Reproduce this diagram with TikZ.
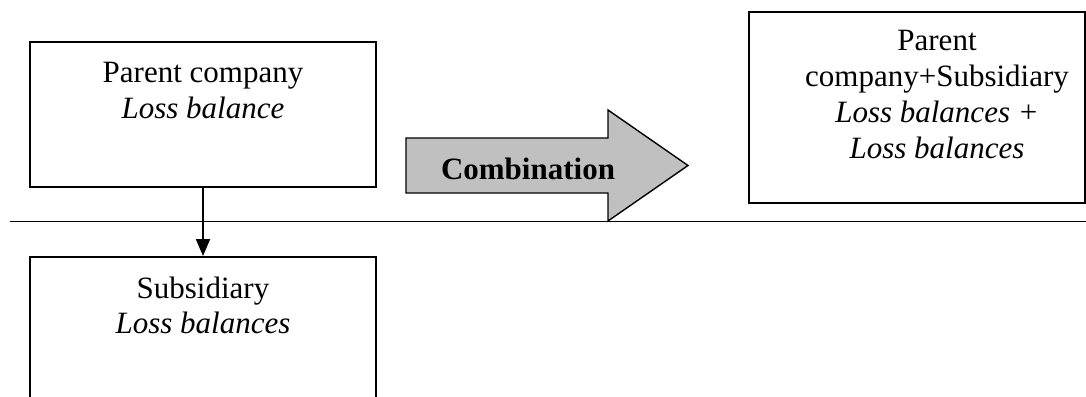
\documentclass[tikz,border=0pt]{standalone}
\usepackage{fontspec}
\setmainfont{Liberation Serif}
\usetikzlibrary{arrows.meta}
\begin{document}
\begin{tikzpicture}[x=0.5pt,y=-0.5pt,
  box/.style={draw,line width=1pt,inner sep=0pt},
  txt/.style={anchor=base,inner sep=0pt,font=\fontsize{15.5pt}{18pt}\selectfont},
  itxt/.style={txt,font=\fontsize{15.5pt}{18pt}\selectfont\itshape},
  btxt/.style={txt,font=\fontsize{15.5pt}{18pt}\selectfont\bfseries}]
\useasboundingbox (0,0) rectangle (1086,396);
\clip (0,0) rectangle (1086,396);
% parent box
\node[box,minimum width=173pt,minimum height=72.5pt] (parent) at (203,114.5) {};
\node[txt] (p1) at (203,82) {Parent company};
\node[itxt] (p2) at (203,118) {Loss balance};
% subsidiary box (bottom cut off)
\node[box,minimum width=173pt,minimum height=90pt] (sub) at (203,347) {};
\node[txt] (s1) at (203,298) {Subsidiary};
\node[itxt] (s2) at (203,333) {Loss balances};
% connector
\draw[line width=1pt,-{Triangle[length=8.5pt,width=7pt]}] (parent.south) -- (sub.north);
% horizontal line
\draw[line width=0.8pt] (10,221.5) -- (1090,221.5);
% combination arrow
\draw[line width=0.7pt,fill={rgb,255:red,192;green,192;blue,192}]
  (406,138) -- (608,138) -- (608,110) -- (688,165.5) -- (608,221) -- (608,193) -- (406,193) -- cycle;
\node[btxt] (comb) at (528,179) {Combination};
% right box
\node[box,minimum width=168pt,minimum height=95.5pt] (res) at (917,107.5) {};
\node[txt] (r1) at (937,50) {Parent};
\node[txt] (r2) at (937,86) {company+Subsidiary};
\node[itxt] (r3) at (937,122) {Loss balances +};
\node[itxt] (r4) at (937,158) {Loss balances};
\end{tikzpicture}
\end{document}
